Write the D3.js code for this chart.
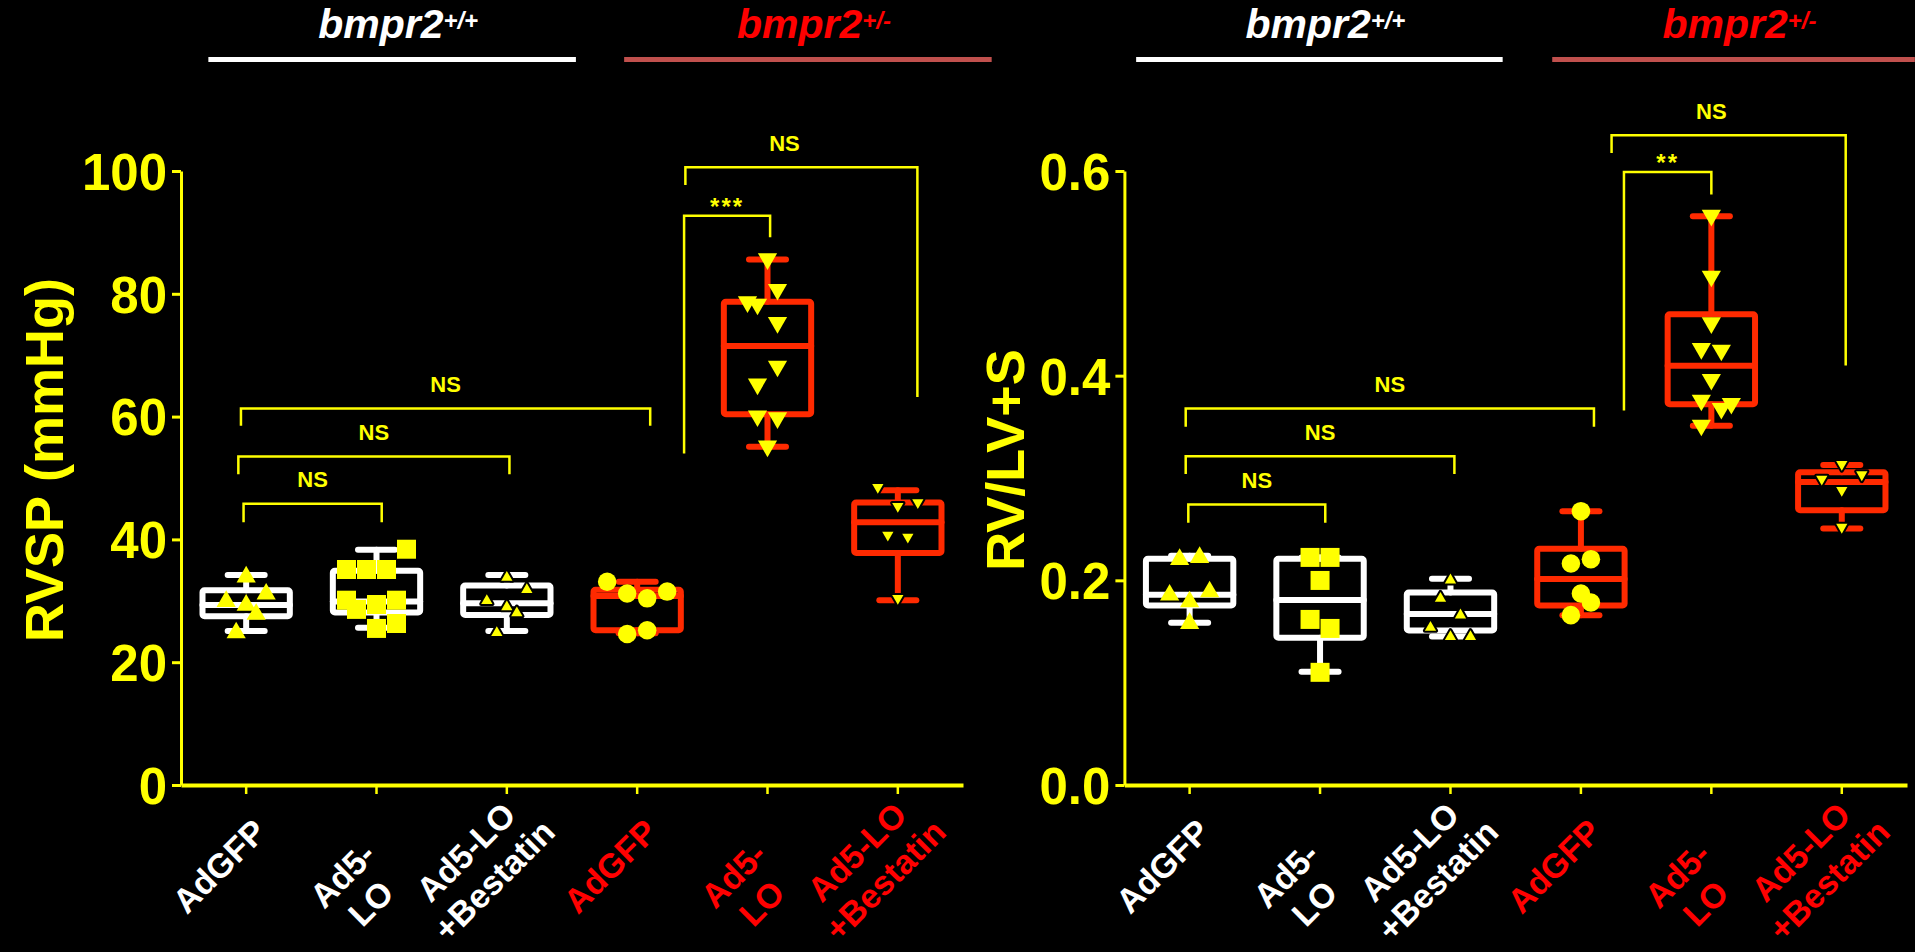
<!DOCTYPE html>
<html>
<head>
<meta charset="utf-8">
<title>RVSP and RV/LV+S</title>
<script src="https://d3js.org/d3.v7.min.js"></script>
<style>
  body { margin: 0; background: #000; }
  svg { display: block; background: #000; font-family: "Liberation Sans", Arial, sans-serif; }
</style>
</head>
<body>
<svg width="1915" height="952"></svg>
<script>

  // groups (same order in both panels)
  const groupLabels = [["AdGFP"], ["Ad5-", "LO"], ["Ad5-LO", "+Bestatin"],
                       ["AdGFP"], ["Ad5-", "LO"], ["Ad5-LO", "+Bestatin"]];
  const genotype = ["wt", "wt", "wt", "het", "het", "het"];
  const markerType = ["up", "square", "upSmall", "circle", "down", "downSmall"];

  // RVSP (mmHg)
  const rvspPoints = [
    [33.9, 29.9, 31.1, 29.3, 27.8, 24.8],
    [38.4, 35.1, 35.1, 35.1, 30.1, 28.6, 29.4, 30.1, 26.3, 25.5],
    [33.8, 31.8, 30.0, 29.0, 28.0, 24.8],
    [33.1, 31.2, 30.4, 31.5, 24.6, 25.2],
    [85.7, 80.7, 78.7, 78.3, 75.3, 68.2, 65.3, 60.1, 59.8, 55.2],
    [48.5, 45.4, 46.0, 40.7, 40.4, 30.4]
  ];
  // scatter lane of each point (left/right of the box centre)
  const rvspLanes = [
    [0, -2, 2, 0, 1, -1],
    [3, -3, -1, 1, -3, -2, 0, 2, 2, 0],
    [0, 2, -2, 0, 1, -1],
    [-3, -1, 1, 3, -1, 1],
    [0, 1, -2, -1, 1, 1, -1, -1, 1, 0],
    [-2, 0, 2, -1, 1, 0]
  ];
  const rvspMin    = [25.1, 25.6, 25.1, 24.7, 55.1, 30.1];
  const rvspQ1     = [27.5, 28.1, 27.7, 25.2, 60.4, 37.8];
  const rvspMedian = [29.3, 29.9, 29.6, 30.8, 71.5, 42.8];
  const rvspQ3     = [31.7, 34.9, 32.5, 31.8, 78.7, 46.0];
  const rvspMax    = [34.2, 38.3, 34.2, 33.1, 85.6, 48.0];
  const rvspTicks  = [0, 20, 40, 60, 80, 100];
  // brackets: from group a to group b (fractional index), bar height, leg ends, label
  const rvspBrackets = [
    {a: -0.02, b: 1.04, y: 45.8, ya: 42.8, yb: 42.8, label: "NS"},
    {a: -0.06, b: 2.02, y: 53.5, ya: 50.6, yb: 50.6, label: "NS"},
    {a: -0.04, b: 3.10, y: 61.3, ya: 58.5, yb: 58.5, label: "NS"},
    {a: 3.36, b: 4.02, y: 92.7, ya: 54.0, yb: 89.2, label: "***"},
    {a: 3.37, b: 5.15, y: 100.6, ya: 97.7, yb: 63.2, label: "NS", at: 4.13}
  ];

  // RV/(LV+S)
  const ratioPoints = [
    [0.2204, 0.2224, 0.1856, 0.1888, 0.1790, 0.1579],
    [0.2224, 0.2224, 0.1999, 0.1618, 0.1530, 0.1101],
    [0.2002, 0.1823, 0.1660, 0.1540, 0.1449, 0.1449],
    [0.2676, 0.2207, 0.2165, 0.1872, 0.1784, 0.1660],
    [0.5567, 0.4972, 0.4516, 0.4265, 0.4249, 0.3963, 0.3760, 0.3679, 0.3728, 0.3516],
    [0.3135, 0.2991, 0.3033, 0.2880, 0.2520]
  ];
  const ratioLanes = [
    [-1, 1, -2, 2, 0, 0],
    [-1, 1, 0, -1, 1, 0],
    [0, -1, 1, -2, 0, 2],
    [0, 1, -1, 0, 1, -1],
    [0, 0, 0, -1, 1, 0, -1, 1, 2, -1],
    [0, -2, 2, 0, 0]
  ];
  const ratioMin    = [0.1585, 0.1107, 0.145, 0.166, 0.351, 0.2507];
  const ratioQ1     = [0.1755, 0.144, 0.151, 0.1755, 0.372, 0.2686];
  const ratioMedian = [0.186, 0.1807, 0.167, 0.2012, 0.4096, 0.2962];
  const ratioQ3     = [0.221, 0.221, 0.188, 0.2308, 0.460, 0.3057];
  const ratioMax    = [0.224, 0.2224, 0.2015, 0.2676, 0.5558, 0.3126];
  const ratioTicks  = [0, 0.2, 0.4, 0.6];
  const ratioBrackets = [
    {a: -0.01, b: 1.04, y: 0.2742, ya: 0.2562, yb: 0.2562, label: "NS"},
    {a: -0.03, b: 2.03, y: 0.3213, ya: 0.3038, yb: 0.3038, label: "NS"},
    {a: -0.03, b: 3.10, y: 0.368, ya: 0.350, yb: 0.350, label: "NS"},
    {a: 3.33, b: 4.00, y: 0.599, ya: 0.366, yb: 0.577, label: "**"},
    {a: 3.235, b: 5.03, y: 0.635, ya: 0.6176, yb: 0.410, label: "NS", at: 4.0}
  ];

  const yellow = "#ffff00";
  const boxColor = {wt: "#ffffff", het: "#ff2a00"};
  const labelColor = {wt: "#ffffff", het: "#ff0000"};
  const headerLineColor = {wt: "#ffffff", het: "#c0504d"};

  let svg = d3.select("svg");

  function drawPanel(p) {
    let g = svg.append("g");
    let idx = d3.range(6);

    let x = d3.scaleBand().domain(idx).range(p.xRange).padding(0);
    let step = x.step();
    let cx = i => x(i) + step / 2;
    let fx = f => p.xRange[0] + (f + 0.5) * step;
    let y = d3.scaleLinear().domain(p.yDomain).range([785, 171]);

    // header
    p.headers.forEach(function (h) {
      let x1 = p.xRange[0] + h.from * step, x2 = p.xRange[0] + h.to * step;
      g.append("line")
              .attr("x1", x1).attr("x2", x2)
              .attr("y1", 59.5).attr("y2", 59.5)
              .attr("stroke", headerLineColor[h.type])
              .attr("stroke-width", 5);
      let t = g.append("text")
              .attr("x", (x1 + x2) / 2 + 6)
              .attr("y", 38)
              .attr("text-anchor", "middle")
              .attr("fill", labelColor[h.type])
              .style("font-weight", "bold")
              .style("font-style", "italic")
              .style("font-size", "41px");
      t.append("tspan").text("bmpr2");
      t.append("tspan").attr("dy", -9).style("font-size", "24px")
              .text(h.type === "wt" ? "+/+" : "+/-");
    });

    // y axis
    let yAxis = g.append("g")
            .attr("transform", "translate(" + p.xRange[0] + ",0)")
            .call(d3.axisLeft(y).tickValues(p.ticks).tickFormat(p.fmt)
                    .tickSize(9).tickSizeOuter(0).tickPadding(5));
    yAxis.select(".domain").attr("stroke", yellow).attr("stroke-width", 3);
    yAxis.selectAll(".tick line").attr("stroke", yellow).attr("stroke-width", 3);
    yAxis.selectAll(".tick text")
            .attr("fill", yellow)
            .attr("dy", "0.36em")
            .style("font-size", "51px")
            .style("font-weight", "bold")
            .style("font-family", "Liberation Sans, Arial, sans-serif");

    // x axis
    let xAxis = g.append("g")
            .attr("transform", "translate(0,785)")
            .call(d3.axisBottom(x).tickFormat("").tickSize(9).tickSizeOuter(0));
    xAxis.select(".domain").attr("stroke", yellow).attr("stroke-width", 4);
    xAxis.selectAll(".tick line").attr("stroke", yellow).attr("stroke-width", 2.5);

    // x labels, rotated; the short two-line labels sit a bit lower
    idx.forEach(function (i) {
      let lines = groupLabels[i];
      let shortWrap = lines.length > 1 && lines[0].length < 5;
      let ox = shortWrap ? -20 : -27, oy = shortWrap ? 104 : 81;
      let lg = g.append("g")
              .attr("transform", "translate(" + (cx(i) + ox) + "," + (785 + oy) + ") rotate(-45)");
      lines.forEach(function (s, j) {
        lg.append("text")
                .attr("x", 0)
                .attr("y", (j - (lines.length - 1) / 2) * 40 + 12)
                .attr("text-anchor", "middle")
                .attr("fill", labelColor[genotype[i]])
                .style("font-size", "34px")
                .style("font-weight", "bold")
                .text(s);
      });
    });

    // y title
    g.append("text")
            .attr("transform", "translate(" + p.titleX + ",460) rotate(-90)")
            .attr("text-anchor", "middle")
            .attr("fill", yellow)
            .style("font-size", "54px")
            .style("font-weight", "bold")
            .text(p.title);

    // boxes
    let bw = step * 0.67, cw = step * 0.33;
    idx.forEach(function (i) {
      let col = boxColor[genotype[i]];
      let bx = g.append("g")
              .attr("stroke", col)
              .attr("stroke-width", 6)
              .attr("fill", "none")
              .attr("stroke-linecap", "round")
              .attr("stroke-linejoin", "round");
      bx.append("line").attr("x1", cx(i)).attr("x2", cx(i))
              .attr("y1", y(p.max[i])).attr("y2", y(p.q3[i]));
      bx.append("line").attr("x1", cx(i)).attr("x2", cx(i))
              .attr("y1", y(p.q1[i])).attr("y2", y(p.min[i]));
      [p.max[i], p.min[i]].forEach(function (v) {
        bx.append("line")
                .attr("x1", cx(i) - cw / 2 + 3).attr("x2", cx(i) + cw / 2 - 3)
                .attr("y1", y(v)).attr("y2", y(v));
      });
      bx.append("rect")
              .attr("x", cx(i) - bw / 2)
              .attr("width", bw)
              .attr("y", y(p.q3[i]))
              .attr("height", y(p.q1[i]) - y(p.q3[i]))
              .attr("rx", 2);
      bx.append("line").attr("x1", cx(i) - bw / 2).attr("x2", cx(i) + bw / 2)
              .attr("y1", y(p.median[i])).attr("y2", y(p.median[i]));
    });

    // points
    let symbols = {
      up: d3.symbol().type(d3.symbolTriangle).size(160),
      down: d3.symbol().type(d3.symbolTriangle).size(160),
      upSmall: d3.symbol().type(d3.symbolTriangle).size(55),
      downSmall: d3.symbol().type(d3.symbolTriangle).size(55),
      square: d3.symbol().type(d3.symbolSquare).size(361),
      circle: d3.symbol().type(d3.symbolCircle).size(270)
    };
    idx.forEach(function (i) {
      let m = markerType[i];
      let pts = p.points[i].map((v, k) => ({v: v, lane: p.lanes[i][k]}));
      g.append("g").selectAll("path")
              .data(pts)
              .enter()
              .append("path")
              .attr("d", symbols[m]())
              .attr("transform", function (d) {
                let t = "translate(" + (cx(i) + d.lane * 10) + "," + y(d.v) + ")";
                return (m === "down" || m === "downSmall") ? t + " rotate(180)" : t;
              })
              .attr("fill", yellow)
              .attr("stroke", (m === "upSmall" || m === "downSmall") ? "#000" : "none")
              .attr("stroke-width", 4)
              .attr("stroke-linejoin", "round")
              .style("paint-order", "stroke");
    });

    // significance brackets
    p.brackets.forEach(function (b) {
      let x1 = fx(b.a), x2 = fx(b.b);
      g.append("path")
              .attr("d", "M" + x1 + "," + y(b.ya) + "V" + y(b.y) + "H" + x2 + "V" + y(b.yb))
              .attr("fill", "none")
              .attr("stroke", yellow)
              .attr("stroke-width", 2.5);
      let star = b.label.indexOf("*") >= 0;
      g.append("text")
              .attr("x", b.at !== undefined ? fx(b.at) : (x1 + x2) / 2)
              .attr("y", y(b.y) - (star ? 1 : 16.5))
              .attr("text-anchor", "middle")
              .attr("fill", yellow)
              .style("font-size", star ? "24px" : "22px")
              .style("font-weight", "bold")
              .style("letter-spacing", star ? "2px" : "0px")
              .text(b.label);
    });
  }

  drawPanel({
    xRange: [181, 963],
    yDomain: [0, 100],
    ticks: rvspTicks,
    fmt: d3.format("d"),
    title: "RVSP (mmHg)",
    titleX: 63,
    points: rvspPoints, lanes: rvspLanes,
    min: rvspMin, q1: rvspQ1, median: rvspMedian, q3: rvspQ3, max: rvspMax,
    brackets: rvspBrackets,
    headers: [{type: "wt", from: 0.21, to: 3.03}, {type: "het", from: 3.40, to: 6.22}]
  });

  drawPanel({
    xRange: [1124.4, 1907],
    yDomain: [0, 0.6],
    ticks: ratioTicks,
    fmt: d3.format(".1f"),
    title: "RV/LV+S",
    titleX: 1024,
    points: ratioPoints, lanes: ratioLanes,
    min: ratioMin, q1: ratioQ1, median: ratioMedian, q3: ratioQ3, max: ratioMax,
    brackets: ratioBrackets,
    headers: [{type: "wt", from: 0.09, to: 2.90}, {type: "het", from: 3.28, to: 6.06}]
  });

</script>
</body>
</html>
